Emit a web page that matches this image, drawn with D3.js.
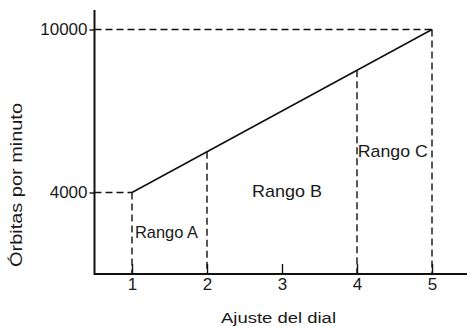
<!DOCTYPE html>
<meta charset="utf-8">
<script src="https://d3js.org/d3.v7.min.js"></script>
<style>
  body { margin: 0; background: #fff; }
  text { font-family: "Liberation Sans", Arial, sans-serif; fill: #1a1a1a; }
</style>
<div id="my_dataviz"></div>
<script>

// data
var dial = [1, 5];                 // line runs from dial 1 to dial 5
var orbits = [4000, 10000];        // orbits per minute at those ends
var xTicks = [1, 2, 3, 4, 5];
var yTicks = [4000, 10000];
var rangeNames = ["Rango A", "Rango B", "Rango C"];
var rangeX = [1.04, 2.6, 4.01];    // where each label starts
var rangeY = [2330, 3830, 5300];   // label baseline, in orbits
var guideX = [2, 4];               // dashed drops from the line

var width = 467, height = 326;

var svg = d3.select("#my_dataviz")
  .append("svg")
    .attr("width", width)
    .attr("height", height);

var x = d3.scaleLinear().domain([0.5, 5.5]).range([94.5, 469.5]);
var y = d3.scaleLinear().domain([1000, 10000]).range([274, 29.5]);

var lineAt = d3.scaleLinear().domain(dial).range(orbits);

// dashed guides
var dash = "7,4";
var guides = svg.append("g")
    .attr("fill", "none")
    .attr("stroke", "#111")
    .attr("stroke-width", 1.4)
    .attr("stroke-dasharray", dash);

// horizontal guides from the axis to the line ends
dial.forEach(function(d, i) {
  guides.append("line")
      .attr("x1", x(0.5)).attr("x2", x(d))
      .attr("y1", y(orbits[i])).attr("y2", y(orbits[i]));
  guides.append("line")
      .attr("x1", x(d)).attr("x2", x(d))
      .attr("y1", y(orbits[i])).attr("y2", y(1000));
});
guideX.forEach(function(d) {
  guides.append("line")
      .attr("x1", x(d)).attr("x2", x(d))
      .attr("y1", y(lineAt(d))).attr("y2", y(1000));
});

// the line itself
svg.append("path")
    .datum(dial.map(function(d, i) { return [d, orbits[i]]; }))
    .attr("fill", "none")
    .attr("stroke", "#111")
    .attr("stroke-width", 1.6)
    .attr("d", d3.line()
      .x(function(d) { return x(d[0]); })
      .y(function(d) { return y(d[1]); }));

// axes
var xAxis = svg.append("g")
    .attr("transform", "translate(0," + y(1000) + ")")
    .call(d3.axisBottom(x).tickValues(xTicks).tickFormat(d3.format("d"))
      .tickSizeInner(-10).tickSizeOuter(0).tickPadding(4));
var yAxis = svg.append("g")
    .attr("transform", "translate(" + x(0.5) + ",0)")
    .call(d3.axisLeft(y).tickValues(yTicks).tickFormat(d3.format("d"))
      .tickSizeInner(5).tickSizeOuter(0).tickPadding(2));

xAxis.select(".domain").attr("d", "M" + x(0.5) + ",0H" + width);
yAxis.select(".domain").attr("d", "M0,10V" + (y(1000) + 1));

svg.selectAll(".domain")
    .attr("stroke", "#111")
    .attr("stroke-width", 2);
svg.selectAll(".tick line")
    .attr("stroke", "#111")
    .attr("stroke-width", 1.4);
svg.selectAll(".tick text")
    .style("font-size", "17px")
    .style("font-family", "'Liberation Sans', Arial, sans-serif")
    .attr("fill", "#222");

// range labels
svg.append("g")
  .selectAll("text")
  .data(rangeNames)
  .enter()
  .append("text")
    .attr("x", function(d, i) { return x(rangeX[i]); })
    .attr("y", function(d, i) { return y(rangeY[i]); })
    .style("font-size", "17px")
    .attr("textLength", function(d, i) { return i == 0 ? 63 : 70; })
    .attr("lengthAdjust", "spacingAndGlyphs")
    .text(function(d) { return d; });

// axis titles
svg.append("text")
    .attr("x", 278.5)
    .attr("y", 323)
    .attr("text-anchor", "middle")
    .style("font-size", "15.5px")
    .attr("textLength", 115)
    .attr("lengthAdjust", "spacingAndGlyphs")
    .text("Ajuste del dial");

svg.append("text")
    .attr("transform", "translate(22,185) rotate(-90)")
    .attr("text-anchor", "middle")
    .style("font-size", "16px")
    .attr("textLength", 164)
    .attr("lengthAdjust", "spacingAndGlyphs")
    .text("Órbitas por minuto");

</script>
